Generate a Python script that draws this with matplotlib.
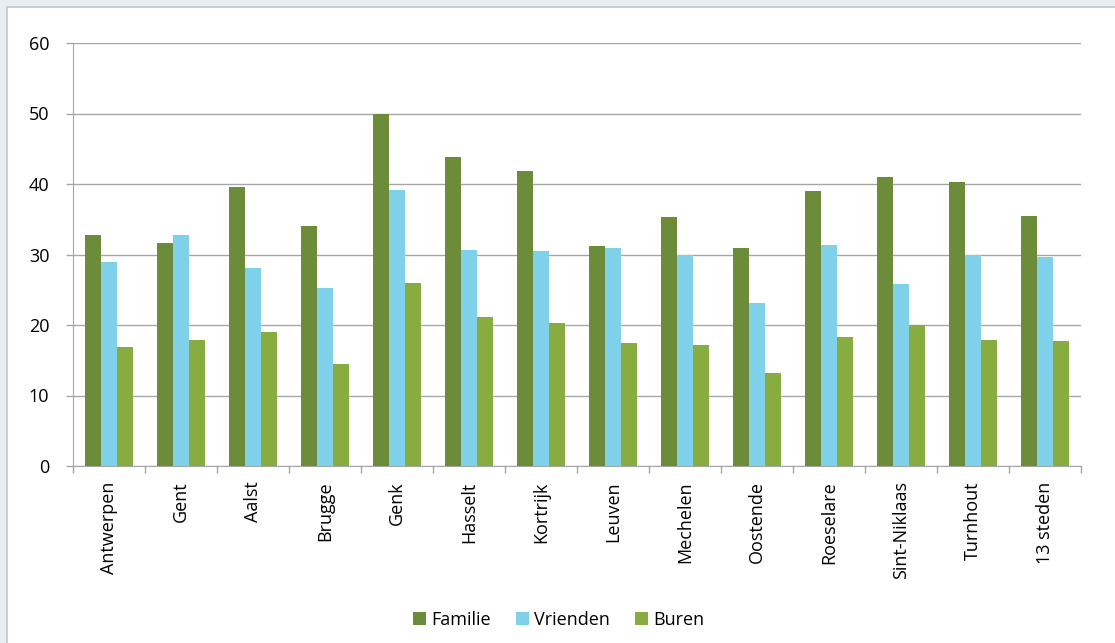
import numpy as np
import matplotlib.pyplot as plt
from matplotlib.patches import Rectangle

steden = ["Antwerpen", "Gent", "Aalst", "Brugge", "Genk", "Hasselt", "Kortrijk",
          "Leuven", "Mechelen", "Oostende", "Roeselare", "Sint-Niklaas", "Turnhout", "13 steden"]
familie = [32.7, 31.7, 39.6, 34.0, 50.0, 43.9, 41.9, 31.2, 35.3, 30.9, 39.0, 41.0, 40.3, 35.5]
vrienden = [29.0, 32.7, 28.1, 25.2, 39.2, 30.6, 30.5, 30.9, 29.9, 23.1, 31.3, 25.8, 30.0, 29.7]
buren = [16.9, 17.9, 19.0, 14.4, 26.0, 21.2, 20.3, 17.5, 17.2, 13.2, 18.3, 20.0, 17.9, 17.8]
reeksen = ["Familie", "Vrienden", "Buren"]
kleuren = ["#6d8c3a", "#7fd1ea", "#87ad41"]

plt.rcParams['font.family'] = ['Open Sans', 'DejaVu Sans']

fig = plt.figure(figsize=(11.15, 6.43), dpi=100)
fig.patch.set_facecolor("#e9eef2")
# white panel with light border
fig.patches.append(Rectangle((7/1115, -0.1), 1.2, (643-7)/643 + 0.1, transform=fig.transFigure,
                             facecolor="white", edgecolor="#b8c8d4", linewidth=1.2, zorder=-5))

ax = fig.add_axes([73/1115, 1-466/643, (1081-73)/1115, (466-43)/643])
ax.set_zorder(2)
ax.set_facecolor("white")

x = np.arange(len(steden))
w = 0.222
for i, (naam, vals) in enumerate(zip(reeksen, [familie, vrienden, buren])):
    ax.bar(x + (i-1)*w, vals, width=w, color=kleuren[i], label=naam, zorder=3)

ax.set_xlim(-0.5, len(steden)-0.5)
ax.set_ylim(0, 60)
ax.set_yticks(range(0, 61, 10))
ax.yaxis.grid(True, color="#a6a6a6", linewidth=1.0, zorder=0)
ax.set_axisbelow(True)

ax.set_xticks(x)
ax.set_xticklabels(steden, rotation=90, fontsize=13)
ax.tick_params(axis='x', length=0, pad=11)
ax.set_xticks(np.arange(-0.5, len(steden)), minor=True)
ax.tick_params(axis='x', which='minor', length=5, color="#a6a6a6", width=1)
ax.tick_params(axis='y', length=5, color="#a6a6a6", width=1, labelsize=13, pad=12)

for s in ["top", "right"]:
    ax.spines[s].set_visible(False)
ax.spines["left"].set_color("#a6a6a6")
ax.spines["bottom"].set_color("#a6a6a6")

fig.legend(loc="center", bbox_to_anchor=(0.501, 1-620/643), ncol=3, frameon=False,
           fontsize=13, handlelength=0.7, handleheight=0.7, handletextpad=0.3, columnspacing=1.4)

fig.savefig("out.png", dpi=100)
